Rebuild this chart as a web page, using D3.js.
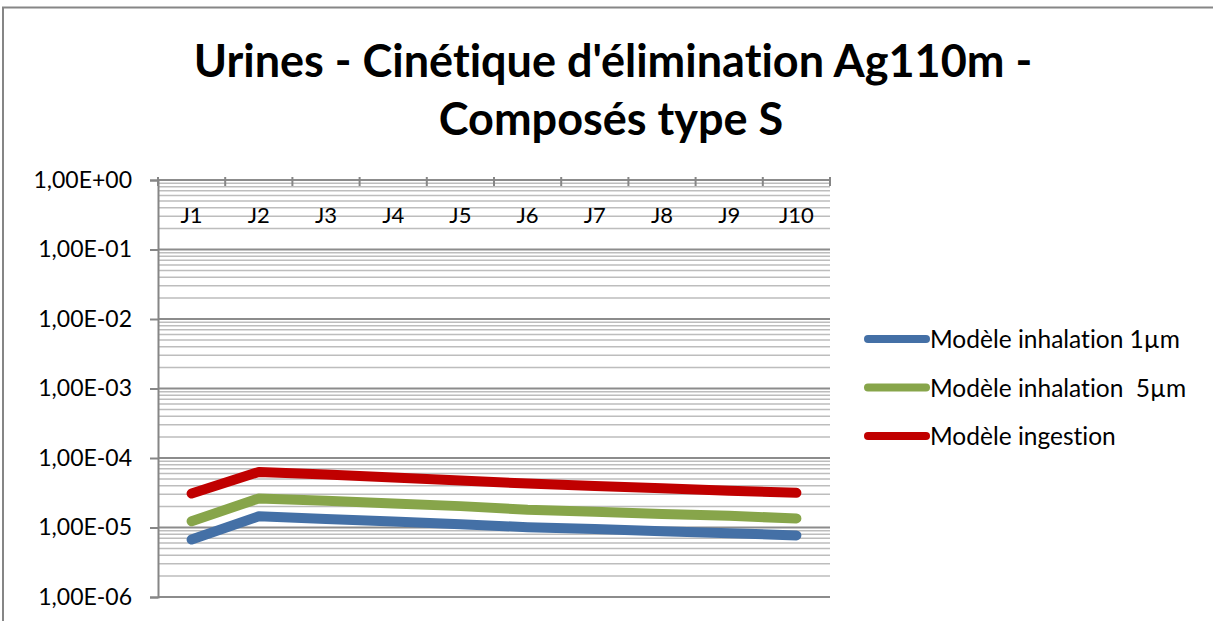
<!DOCTYPE html>
<html>
<head>
<meta charset="utf-8">
<script src="https://cdn.jsdelivr.net/npm/d3@7"></script>
<style>
  body { margin: 0; background: #fff; }
  svg { display: block; }
  text { font-family: Lato, "Open Sans", sans-serif; fill: #000; font-variant-ligatures: none; }
</style>
</head>
<body>
<svg id="chart" width="1213" height="621"></svg>
<script>
const days = ["J1", "J2", "J3", "J4", "J5", "J6", "J7", "J8", "J9", "J10"];
const seriesNames = ["Modèle inhalation 1µm", "Modèle inhalation  5µm", "Modèle ingestion"];
const inhal1 = [6.7e-6, 1.45e-5, 1.33e-5, 1.22e-5, 1.11e-5, 1.01e-5, 9.5e-6, 8.85e-6, 8.26e-6, 7.7e-6];
const inhal5 = [1.23e-5, 2.62e-5, 2.43e-5, 2.22e-5, 2.03e-5, 1.80e-5, 1.68e-5, 1.57e-5, 1.47e-5, 1.35e-5];
const ingest = [3.09e-5, 6.3e-5, 5.8e-5, 5.25e-5, 4.75e-5, 4.28e-5, 3.95e-5, 3.66e-5, 3.39e-5, 3.15e-5];
const yTicks = [1, 1e-1, 1e-2, 1e-3, 1e-4, 1e-5, 1e-6];
const yTickLabels = ["1,00E+00", "1,00E-01", "1,00E-02", "1,00E-03", "1,00E-04", "1,00E-05", "1,00E-06"];
const colors = ["#4470a6", "#87a54a", "#c00000"];

const svg = d3.select("#chart");
const margin = { top: 180, right: 383, bottom: 24, left: 158 };
const width = 1213, height = 621;

// chart border (top + left only visible in the crop)
svg.append("path")
    .attr("d", `M3,${height} V7.5 H${width}`)
    .attr("fill", "none").attr("stroke", "#868686").attr("stroke-width", 2);

// title
const title = svg.append("text").attr("text-anchor", "middle")
    .style("font-weight", "bold").style("font-size", "45px");
title.append("tspan").attr("x", 613).attr("y", 77).text("Urines - Cinétique d'élimination Ag110m -");
title.append("tspan").attr("x", 611).attr("y", 135).text("Composés type S");

const x = d3.scaleBand().domain(days).range([margin.left, width - margin.right]);
const y = d3.scaleLog().domain([1e-6, 1]).range([height - margin.bottom, margin.top]);

// minor grid
const minor = [];
for (let e = -6; e < 0; e++) for (let m = 2; m <= 9; m++) minor.push(m * Math.pow(10, e));
svg.append("g").selectAll("line").data(minor).join("line")
    .attr("x1", margin.left).attr("x2", width - margin.right)
    .attr("y1", d => y(d)).attr("y2", d => y(d))
    .attr("stroke", "#bdbdbd").attr("stroke-width", 1.5);

// major grid
svg.append("g").selectAll("line").data(yTicks).join("line")
    .attr("x1", margin.left).attr("x2", width - margin.right)
    .attr("y1", d => y(d)).attr("y2", d => y(d))
    .attr("stroke", "#8c8c8c").attr("stroke-width", 2);

// y axis
const yAxis = svg.append("g")
    .attr("transform", `translate(${margin.left},0)`)
    .call(d3.axisLeft(y).tickValues(yTicks).tickSize(8).tickPadding(18)
        .tickFormat((d, i) => yTickLabels[i]));
yAxis.select(".domain").attr("stroke", "#868686").attr("stroke-width", 2);
yAxis.selectAll(".tick line").attr("stroke", "#868686").attr("stroke-width", 2);
yAxis.selectAll("text").style("font-size", "23px").attr("fill", "#000")
    .style("font-family", "Lato, sans-serif");

// x axis at top (crosses at 1,00E+00)
const bounds = days.map(d => x(d)).concat([x.range()[1]]);
svg.append("g").selectAll("line").data(bounds).join("line")
    .attr("x1", d => d).attr("x2", d => d)
    .attr("y1", margin.top - 3).attr("y2", margin.top + 6)
    .attr("stroke", "#868686").attr("stroke-width", 2);
svg.append("g").selectAll("text").data(days).join("text")
    .attr("x", d => x(d) + x.bandwidth() / 2)
    .attr("y", margin.top + 43)
    .attr("text-anchor", "middle")
    .style("font-size", "22px")
    .text(d => d);

// lines
const allSeries = [inhal1, inhal5, ingest];
const line = d3.line()
    .x((d, i) => x(days[i]) + x.bandwidth() / 2)
    .y(d => y(d));
svg.append("g").selectAll("path").data(allSeries).join("path")
    .attr("d", line)
    .attr("fill", "none")
    .attr("stroke", (d, i) => colors[i])
    .attr("stroke-width", 10)
    .attr("stroke-linecap", "round")
    .attr("stroke-linejoin", "round");

// legend
const legend = svg.append("g").attr("transform", "translate(868,339)");
const items = legend.selectAll("g").data(seriesNames).join("g")
    .attr("transform", (d, i) => `translate(0,${i * 48.5})`);
items.append("line")
    .attr("x1", 0).attr("x2", 58).attr("y1", 0).attr("y2", 0)
    .attr("stroke", (d, i) => colors[i]).attr("stroke-width", 8)
    .attr("stroke-linecap", "round");
items.append("text")
    .attr("x", 62).attr("y", 9)
    .style("font-size", "24.5px")
    .style("white-space", "pre")
    .attr("xml:space", "preserve")
    .text(d => d);
</script>
</body>
</html>
